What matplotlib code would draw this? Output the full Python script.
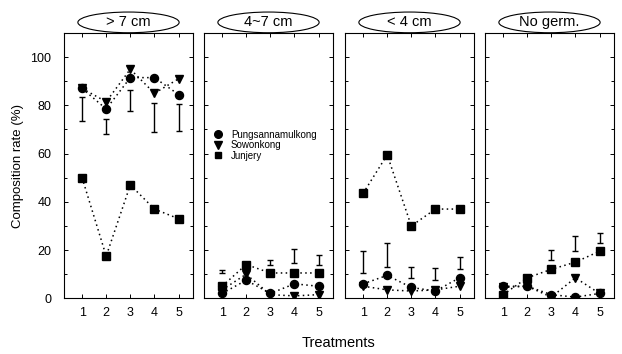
import matplotlib
matplotlib.use("Agg")
import matplotlib.pyplot as plt
import numpy as np
from matplotlib.patches import Ellipse
from matplotlib.lines import Line2D

plt.rcParams['font.family'] = ['Liberation Sans', 'DejaVu Sans']

treatments = [1, 2, 3, 4, 5]
panel_titles = ["> 7 cm", "4~7 cm", "< 4 cm", "No germ."]
series_names = ["Pungsannamulkong", "Sowonkong", "Junjery"]
series_markers = ["o", "v", "s"]

# values per panel: Pungsannamulkong, Sowonkong, Junjery
pung = [
    [87, 78.5, 91.5, 91.5, 84.5],
    [2, 7.5, 2, 6, 5],
    [6, 9.5, 4.5, 3, 8.5],
    [5, 5, 1.5, 0.5, 2],
]
sowon = [
    [87, 81.5, 95, 85, 91],
    [3.5, 10, 1.5, 1, 1.5],
    [5, 3.5, 3, 3.5, 5],
    [4.5, 5, 0.5, 8.5, 2],
]
junjery = [
    [50, 17.5, 47, 37, 33],
    [5, 14, 10.5, 10.5, 10.5],
    [43.5, 59.5, 30, 37, 37],
    [1.5, 8.5, 12, 15, 19.5],
]
# error bar ranges (low, high) per treatment; nan = none
err_low = [
    [73.5, 68, 77.5, 69, 69.5],
    [10.3, np.nan, 14, 14.5, 14],
    [10.5, 13, 8.5, 7.5, 12],
    [np.nan, np.nan, 16, 19.5, 23],
]
err_high = [
    [83.5, 74.5, 86.5, 81, 80.5],
    [11.7, np.nan, 16, 20.5, 18],
    [19.5, 23, 13, 12.5, 17],
    [np.nan, np.nan, 20, 26, 27],
]

W, H = 622, 354
fig = plt.figure(figsize=(W / 100, H / 100), dpi=100)

lefts = [64, 204, 345, 485]
pw = 129
bottom_px, top_px = 298.3, 33
for i in range(4):
    ax = fig.add_axes([lefts[i] / W, (H - bottom_px) / H, pw / W, (bottom_px - top_px) / H])
    data = [pung[i], sowon[i], junjery[i]]
    for vals, m in zip(data, series_markers):
        ax.plot(treatments, vals, linestyle=(0, (1, 2.2)), color='black', lw=1.1,
                marker=m, markersize=5.8 if m != 's' else 5.2, markerfacecolor='black',
                markeredgecolor='black', zorder=3)
    lo = np.array(err_low[i], dtype=float)
    hi = np.array(err_high[i], dtype=float)
    mid = (lo + hi) / 2
    half = (hi - lo) / 2
    ax.errorbar(treatments, mid, yerr=half, fmt='none', ecolor='black',
                elinewidth=1.0, capsize=2.5, capthick=1.0, zorder=2)
    ax.set_xlim(0.25, 5.6)
    ax.set_ylim(0, 110)
    ax.set_xticks(treatments)
    ax.set_yticks(np.arange(0, 101, 20))
    ax.set_yticks(np.arange(10, 110, 20), minor=True)
    ax.tick_params(axis='both', which='both', direction='in', top=True, right=True,
                   labelsize=9, length=3, width=0.7)
    ax.tick_params(axis='x', pad=6)
    ax.tick_params(axis='y', pad=9)
    ax.tick_params(axis='y', which='minor', length=2)
    if i > 0:
        ax.tick_params(axis='y', labelleft=False)
    for s in ax.spines.values():
        s.set_linewidth(0.8)
    ell = Ellipse((0.5, 1.04), 0.785, 0.078, transform=ax.transAxes,
                  facecolor='white', edgecolor='black', lw=0.8, clip_on=False, zorder=5)
    ax.add_patch(ell)
    ax.text(0.5, 1.042, panel_titles[i], transform=ax.transAxes, ha='center',
            va='center', fontsize=10.5, zorder=6)
    if i == 0:
        ax.set_ylabel("Composition rate (%)", fontsize=9.5, labelpad=5)
    if i == 1:
        handles = [Line2D([], [], linestyle='none', marker=m, color='black',
                          markersize=5.5 if m != 's' else 5) for m in series_markers]
        ax.legend(handles, series_names, loc='upper left', bbox_to_anchor=(0.08, 0.635),
                  frameon=False, fontsize=7, handlelength=0.8, handletextpad=0.9,
                  labelspacing=0.05, borderpad=0, borderaxespad=0)

fig.text(338 / W, 1 - 343 / H, "Treatments", ha='center', va='center', fontsize=10.5)
fig.savefig("out.png", dpi=100)
